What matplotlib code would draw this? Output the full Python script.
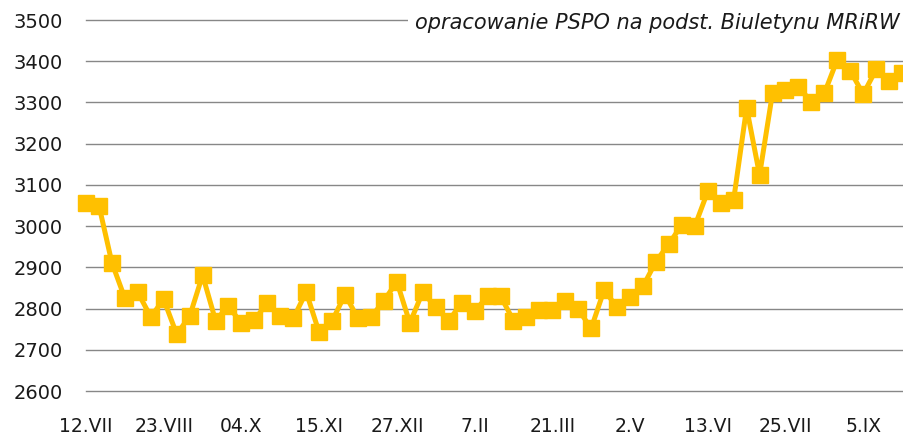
import matplotlib
matplotlib.use("Agg")
import matplotlib.pyplot as plt

# ---- data ----
tick_labels = ["12.VII", "23.VIII", "04.X", "15.XI", "27.XII", "7.II",
               "21.III", "2.V", "13.VI", "25.VII", "5.IX"]
tick_step = 6  # one label every 6 weekly points
values = [3057, 3050, 2911, 2825, 2839, 2780, 2822, 2738, 2781, 2881,
          2771, 2806, 2764, 2773, 2813, 2782, 2776, 2840, 2742, 2770,
          2834, 2776, 2779, 2819, 2865, 2765, 2840, 2803, 2770, 2814,
          2793, 2830, 2830, 2771, 2779, 2796, 2797, 2818, 2798, 2752,
          2845, 2803, 2827, 2854, 2914, 2957, 3003, 3000, 3084, 3057,
          3064, 3287, 3124, 3323, 3329, 3337, 3302, 3322, 3404, 3377,
          3320, 3380, 3351, 3371]
y_ticks = [2600, 2700, 2800, 2900, 3000, 3100, 3200, 3300, 3400, 3500]
title = "Ceny oleju rzepakowego"
subtitle = "opracowanie PSPO na podst. Biuletynu MRiRW"

W, H = 904, 436
fig = plt.figure(figsize=(W / 100, H / 100), dpi=100)
fig.patch.set_facecolor("white")

left = 86 / W
bottom = (H - 391) / H
top = (H - 20) / H
ax = fig.add_axes([left, bottom, 1.0 - left, top - bottom])

x = list(range(len(values)))
ax.plot(x, values, color="#FFC000", lw=3.6, marker="s", ms=12,
        mfc="#FFC000", mec="#FFC000", clip_on=False, zorder=3)

ax.set_xlim(0, 63.15)
ax.set_ylim(2600, 3500)
ax.set_yticks(y_ticks)
ax.set_xticks([i * tick_step for i in range(len(tick_labels))])
ax.set_xticklabels(tick_labels)

ax.grid(axis="y", color="#878787", lw=1.0, zorder=0)
ax.grid(axis="x", visible=False)
for gl in ax.get_ygridlines():
    gl.set_clip_on(False)
ax.set_axisbelow(True)
for s in ax.spines.values():
    s.set_visible(False)
ax.tick_params(axis="both", length=0, labelcolor="#1a1a1a")
ax.tick_params(axis="y", pad=17, labelsize=14)
ax.tick_params(axis="x", pad=19, labelsize=13.5)

# subtitle with white box covering the top gridline
fig.text(900 / W, (H - 29) / H, subtitle, ha="right", va="baseline",
         fontsize=15, style="italic", color="#1a1a1a", zorder=10,
         bbox=dict(facecolor="white", edgecolor="none", pad=5))

# title, mostly above the visible area (only descenders show, as in the reference)
fig.text(148 / W, (H + 5) / H, title, ha="left", va="baseline",
         fontsize=18, fontweight="bold", color="#111111")

fig.savefig("out.png", dpi=100, facecolor="white")
